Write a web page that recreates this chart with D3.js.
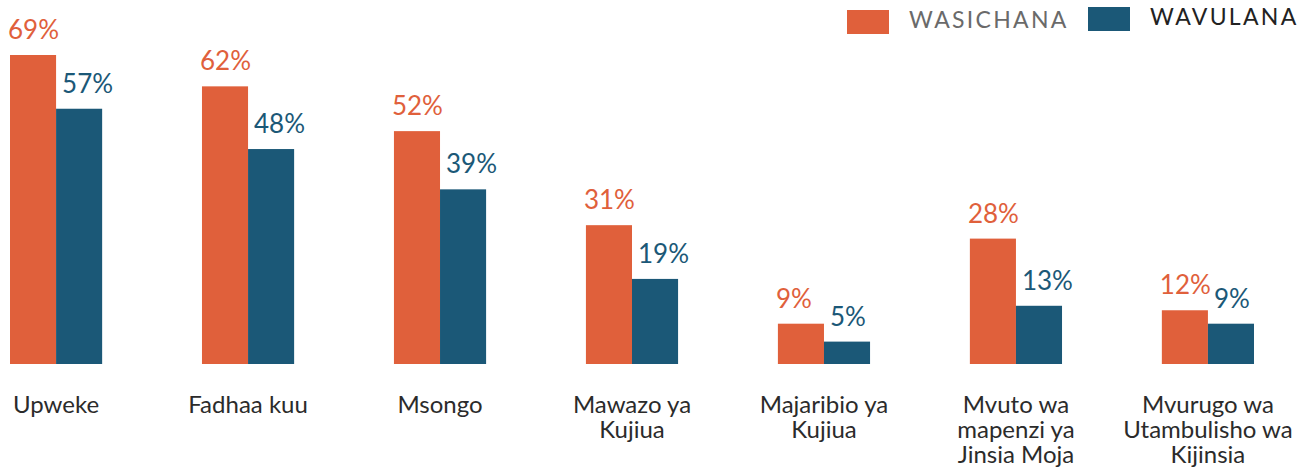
<!DOCTYPE html>
<html>
<head>
<meta charset="utf-8">
<script src="https://cdn.jsdelivr.net/npm/d3@7"></script>
<style>
  body { margin: 0; background: #fff; }
  svg { display: block; font-family: Lato, "Open Sans", sans-serif; }
</style>
</head>
<body>
<div id="chart"></div>
<script>
// data
const categories = [
    "Upweke",
    "Fadhaa kuu",
    "Msongo",
    "Mawazo ya\nKujiua",
    "Majaribio ya\nKujiua",
    "Mvuto wa\nmapenzi ya\nJinsia Moja",
    "Mvurugo wa\nUtambulisho wa\nKijinsia"
];
const series = ["WASICHANA", "WAVULANA"];
const wasichana = [69, 62, 52, 31, 9, 28, 12];
const wavulana = [57, 48, 39, 19, 5, 13, 9];

const width = 1316;
const height = 471;
const baseline = 364;

const colors = d3.scaleOrdinal().domain(series).range(["#e0603b", "#1b5877"]);

const svg = d3.select("#chart")
    .append("svg")
    .attr("width", width)
    .attr("height", height);

// one band per category, two bars inside each band
const x = d3.scaleBand()
    .domain(categories)
    .range([10, 1254])
    .paddingInner(0.52)
    .paddingOuter(0);

const xInner = d3.scaleBand()
    .domain(series)
    .range([0, x.bandwidth()]);

const y = d3.scaleLinear()
    .domain([0, 69])
    .range([baseline, 55]);

const rows = categories.map((c, i) => ({
    category: c,
    values: [
        { key: series[0], value: wasichana[i] },
        { key: series[1], value: wavulana[i] }
    ]
}));

const groups = svg.append("g")
    .selectAll("g")
    .data(rows)
    .join("g")
    .attr("transform", d => `translate(${x(d.category)},0)`);

groups.selectAll("rect")
    .data(d => d.values)
    .join("rect")
    .attr("x", d => xInner(d.key))
    .attr("y", d => y(d.value))
    .attr("width", xInner.bandwidth())
    .attr("height", d => baseline - y(d.value))
    .attr("fill", d => colors(d.key));

// value labels above each bar
groups.selectAll("text.value")
    .data(d => d.values)
    .join("text")
    .attr("class", "value")
    .attr("x", d => xInner(d.key) + (d.key === series[0] ? -2 : 6))
    .attr("y", d => y(d.value) - 16)
    .attr("fill", d => colors(d.key))
    .attr("font-size", 26)
    .text(d => d.value + "%");

// category labels under the bars
const catLabels = groups.append("text")
    .attr("x", x.bandwidth() / 2)
    .attr("y", 413)
    .attr("text-anchor", "middle")
    .attr("fill", "#2b2b2b")
    .attr("font-size", 24);

catLabels.selectAll("tspan")
    .data(d => d.category.split("\n"))
    .join("tspan")
    .attr("x", x.bandwidth() / 2)
    .attr("dy", (d, i) => i === 0 ? 0 : 25)
    .text(d => d);

// legend
const legendX = [847, 1088];
const legend = svg.append("g")
    .selectAll("g")
    .data(series)
    .join("g")
    .attr("transform", (d, i) => `translate(${legendX[i]},${i === 0 ? 10 : 7})`);

legend.append("rect")
    .attr("width", 42)
    .attr("height", 24)
    .attr("fill", d => colors(d));

legend.append("text")
    .attr("x", 62)
    .attr("y", 18)
    .attr("font-size", 23)
    .attr("letter-spacing", 2.3)
    .attr("fill", (d, i) => i === 0 ? "#6a6a6a" : "#222")
    .text(d => d);
</script>
</body>
</html>
